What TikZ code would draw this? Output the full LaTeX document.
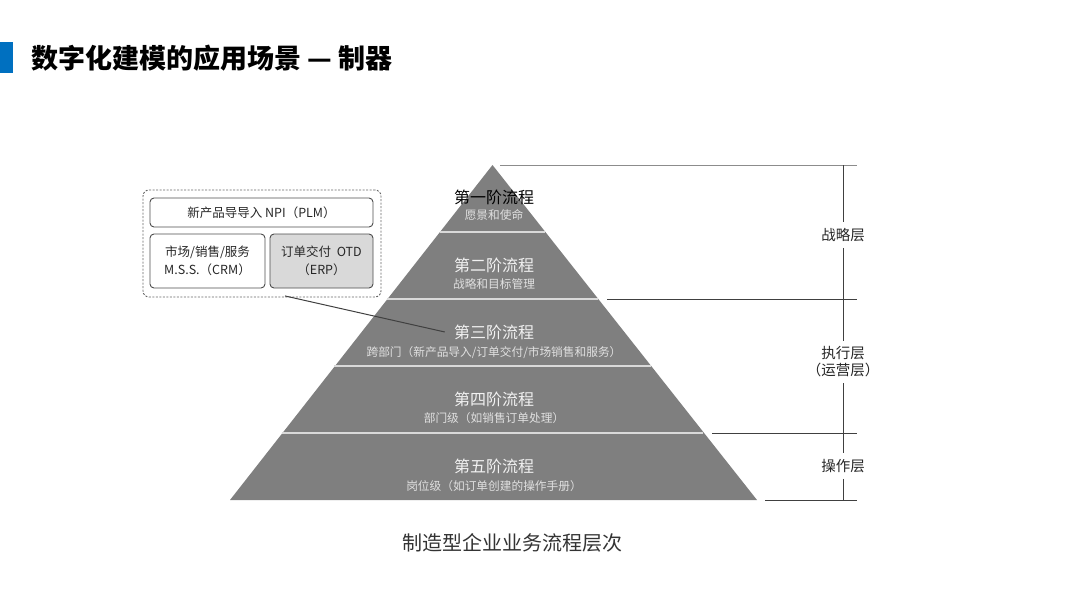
\documentclass[tikz,border=0pt]{standalone}
\usepackage{fontspec}
\newfontfamily\cjk{Noto Sans CJK SC}
\usetikzlibrary{positioning}
\definecolor{barblue}{HTML}{0070C0}
\definecolor{pyrgray}{HTML}{7F7F7F}
\definecolor{rulegray}{HTML}{404040}
\definecolor{boxgray}{HTML}{D9D9D9}

\begin{document}
\begin{tikzpicture}[x=1pt,y=-1pt]
    \tikzstyle{every node}=[font=\cjk, inner sep=0pt]
    \tikzstyle{stage}=[text=white!95!black, font=\cjk\fontsize{16}{18}\selectfont]
    \tikzstyle{stagesub}=[text=white!88!black, font=\cjk\fontsize{11.7}{13}\selectfont]
    \tikzstyle{tier}=[text=black!85, font=\cjk\fontsize{14.5}{17}\selectfont, align=center, inner ysep=6pt]
    \tikzstyle{sysbox}=[draw=black!70, rounded corners=4pt, line width=0.9pt, align=center, font=\cjk\fontsize{12.5}{18}\selectfont, text=black!85]
    \useasboundingbox (0,0) rectangle (1080,608);

     % title
     \fill[barblue] (0,42) rectangle (13,73);
     \node[anchor=west, font=\cjk\bfseries\fontsize{27}{30}\selectfont] (title) at (31,58) {数字化建模的应用场景 — 制器};

     % pyramid
     \fill[pyrgray] (492.5,165) -- (230,500) -- (757,500) -- cycle;
     \draw[boxgray, line width=1.4pt] (439.8,232) -- (545.2,232);
     \draw[boxgray, line width=1.4pt] (387.1,299) -- (597.9,299);
     \draw[boxgray, line width=1.4pt] (334.4,366) -- (650.6,366);
     \draw[boxgray, line width=1.4pt] (281.7,433) -- (703.3,433);

     \node[stage, text=black] (l1) at (494,197) {第一阶流程};
     \node[stagesub] (l1s) at (494,215) {愿景和使命};
     \node[stage] (l2) at (494,265) {第二阶流程};
     \node[stagesub] (l2s) at (494,284) {战略和目标管理};
     \node[stage] (l3) at (494,332) {第三阶流程};
     \node[stagesub] (l3s) at (494,353) {跨部门（新产品导入/订单交付/市场销售和服务）};
     \node[stage] (l4) at (494,399) {第四阶流程};
     \node[stagesub] (l4s) at (494,418) {部门级（如销售订单处理）};
     \node[stage] (l5) at (494,466) {第五阶流程};
     \node[stagesub] (l5s) at (494,486) {岗位级（如订单创建的操作手册）};

     % tiers on the right
     \draw[black!45, line width=0.9pt] (500,165) -- (857,165);
     \draw[rulegray, line width=0.9pt] (607,299) -- (857,299);
     \draw[rulegray, line width=0.9pt] (712,433) -- (857,433);
     \draw[rulegray, line width=0.9pt] (765,500) -- (857,500);
     \coordinate (t0) at (843,165);
     \coordinate (t4) at (843,500);
     \node[tier] (strat) at (843,235) {战略层};
     \node[tier] (exec) at (843,362) {执行层\\（运营层）};
     \node[tier] (oper) at (843,466) {操作层};
     \draw[rulegray, line width=0.9pt] (t0) -- (strat.north);
     \draw[rulegray, line width=0.9pt] (strat.south) -- (exec.north);
     \draw[rulegray, line width=0.9pt] (exec.south) -- (oper.north);
     \draw[rulegray, line width=0.9pt] (oper.south) -- (t4);

     % systems box
     \node[draw=black!60, dashed, dash pattern=on 2pt off 1.5pt, rounded corners=6pt, line width=0.9pt, minimum width=238pt, minimum height=107pt] (frame) at (262,243.5) {};
     \node[sysbox, minimum width=223pt, minimum height=29pt] (npi) at (261.5,212.5) {新产品导导入 NPI（PLM）};
     \node[sysbox, minimum width=115pt, minimum height=54pt] (mss) at (207.5,261) {市场/销售/服务\\M.S.S.（CRM）};
     \node[sysbox, fill=boxgray, minimum width=103pt, minimum height=54pt] (otd) at (321.5,261) {订单交付 \ OTD\\（ERP）};
     \coordinate (framefoot) at ([xshift=23]frame.south);
     \draw[rulegray, line width=1pt] ([yshift=1.5]framefoot) -- ([xshift=-9]l3.west);

     % caption
     \node[text=black!80, font=\cjk\fontsize{20}{24}\selectfont] (caption) at (512,543) {制造型企业业务流程层次};
    \end{tikzpicture}
\end{document}
